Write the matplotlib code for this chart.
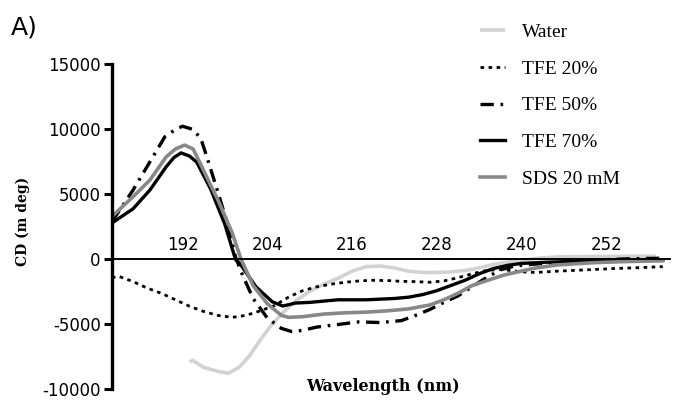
import matplotlib
matplotlib.use("Agg")
import matplotlib.pyplot as plt

# Longitudes de onda (nm) y CD (m deg)
agua_nm = [193.0, 193.4, 195, 197, 198.5, 200, 201.5, 203, 204.5, 206, 208, 210, 212,
           214, 216, 218, 220, 222, 224, 226, 228, 230, 232, 234, 236, 238, 240, 242,
           245, 250, 255, 259]
agua_cd = [-7900, -7750, -8300, -8600, -8750, -8300, -7400, -6200, -5100, -4200, -3200,
           -2450, -1900, -1450, -900, -550, -500, -650, -900, -1000, -1000, -950, -850,
           -650, -380, -200, -50, 80, 200, 230, 250, 250]

tfe20_nm = [182, 183, 185, 187, 189, 191, 193, 195, 197, 199, 201, 203, 205, 207, 209,
            211, 213, 215, 217, 219, 221, 223, 225, 227, 229, 231, 233, 235, 237, 240,
            242, 245, 249, 253, 257, 260]
tfe20_cd = [-1400, -1300, -1700, -2200, -2600, -3100, -3600, -4000, -4300, -4450, -4300,
            -3950, -3550, -2900, -2400, -2100, -1900, -1750, -1650, -1600, -1620, -1680,
            -1700, -1750, -1650, -1400, -1100, -850, -750, -950, -1000, -900, -800, -700,
            -620, -550]

tfe50_nm = [182, 185, 187.4, 189.5, 191, 192, 193.5, 194.6, 195.5, 197, 198.5, 199.5,
            200.5, 202, 204, 206, 207.5, 209, 211, 214, 217, 220, 223, 225, 227, 229,
            231, 233, 235, 237, 239, 242, 246, 250, 255, 260]
tfe50_cd = [2900, 5340, 7520, 9440, 10000, 10250, 10000, 9300, 7800, 5200, 2500, 200,
            -1200, -3000, -4500, -5300, -5550, -5450, -5200, -5000, -4800, -4850, -4700,
            -4300, -3850, -3300, -2800, -2100, -1400, -800, -500, -350, -200, -50, 50, 100]

tfe70_nm = [182, 185, 187.4, 189.7, 190.8, 191.8, 193, 194, 196, 198, 199.5, 200.1, 202.4,
            204.7, 206.2, 208, 210, 212, 214, 216, 218, 220, 222, 224, 226, 228, 230, 232,
            234, 236, 238, 240, 244, 248, 252, 256, 260]
tfe70_cd = [2800, 3900, 5350, 7140, 7850, 8200, 7950, 7500, 5400, 2700, 0, -300, -2100,
            -3250, -3580, -3350, -3300, -3200, -3100, -3100, -3100, -3050, -3000, -2900,
            -2700, -2400, -2000, -1600, -1100, -700, -450, -300, -200, -150, -100, -80, -50]

sds_nm = [182, 185, 187.4, 189.7, 191, 192.3, 193.5, 194.5, 196, 197, 199, 200.3, 202, 204,
          206, 207, 209, 212, 215, 218, 221, 224, 227, 229, 231, 233, 235.5, 237.5,
          239.6, 242, 245, 250, 254, 260]
sds_cd = [3300, 4830, 6120, 7900, 8500, 8800, 8500, 7400, 5700, 4600, 2100, 0, -2000, -3400,
          -4300, -4450, -4400, -4200, -4100, -4050, -3950, -3800, -3500, -3100, -2600,
          -2000, -1550, -1200, -940, -650, -420, -250, -170, -100]

ticks_x = [192, 204, 216, 228, 240, 252]
ticks_y = [-10000, -5000, 0, 5000, 10000, 15000]

plt.rcParams['axes.unicode_minus'] = False

fig = plt.figure(figsize=(6.78, 4.03), dpi=100)
ax = fig.add_axes([0.165, 0.0335, 0.823, 0.8065])

ax.plot(agua_nm, agua_cd, color='#d2d2d2', lw=2.6, label='Water', solid_capstyle='butt')
ax.plot(tfe20_nm, tfe20_cd, color='black', lw=2.0, ls=(0, (1.3, 1.6)), label='TFE 20%')
ax.plot(tfe50_nm, tfe50_cd, color='black', lw=2.4, ls=(0, (4, 2, 0.8, 2)), label='TFE 50%')
ax.plot(tfe70_nm, tfe70_cd, color='black', lw=2.4, label='TFE 70%')
ax.plot(sds_nm, sds_cd, color='#888888', lw=2.6, label='SDS 20 mM')

ax.set_xlim(182, 261)
ax.set_ylim(-10000, 15000)
ax.set_xticks(ticks_x)
ax.set_yticks(ticks_y)

ax.spines['top'].set_visible(False)
ax.spines['right'].set_visible(False)
ax.spines['bottom'].set_position(('data', 0))
ax.spines['bottom'].set_linewidth(1.4)
ax.spines['left'].set_linewidth(2.4)
ax.tick_params(axis='x', length=0, pad=-17, labelsize=12)
ax.tick_params(axis='y', length=6, width=2.2, labelsize=12, pad=2)

ax.text(0.486, -0.018, 'Wavelength (nm)', transform=ax.transAxes, ha='center', va='bottom',
        family='DejaVu Serif', fontweight='bold', fontsize=11.5)
fig.text(0.033, 0.45, 'CD (m deg)', rotation=90, ha='center', va='center',
         family='DejaVu Serif', fontweight='bold', fontsize=10)
fig.text(0.016, 0.933, 'A)', fontsize=18, ha='left', va='center')

ax.legend(loc='upper left', bbox_to_anchor=(0.708, 0.942), bbox_transform=fig.transFigure,
          frameon=False, borderpad=0, borderaxespad=0, handlelength=1.3,
          handletextpad=0.85, labelspacing=0.98,
          prop={'family': 'Liberation Serif', 'size': 14})

fig.savefig('out.png', dpi=100)
